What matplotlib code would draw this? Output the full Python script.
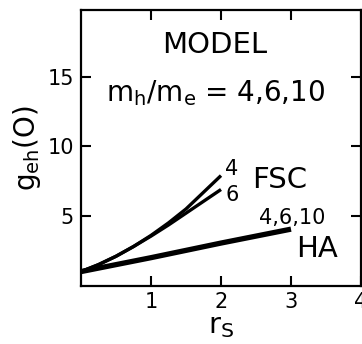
import numpy as np
import matplotlib
matplotlib.use("Agg")
import matplotlib.pyplot as plt

plt.rcParams['font.family'] = ['DejaVu Sans']
plt.rcParams['mathtext.fontset'] = 'dejavusans'

# valeurs
rs_fsc = [0.0, 0.25, 0.5, 0.75, 1.0, 1.25, 1.5, 1.75, 2.0]
g_fsc_4 = [1.0, 1.5, 2.1, 2.8, 3.6, 4.5, 5.5, 6.7, 7.9]
g_fsc_6 = [1.0, 1.5, 2.1, 2.8, 3.55, 4.35, 5.2, 6.05, 6.9]
rs_ha = [0.0, 1.0, 2.0, 3.0]
g_ha = [1.0, 2.0, 3.05, 4.05]

xticks = [1, 2, 3, 4]
yticks = [5, 10, 15]

fig = plt.figure(figsize=(3.62, 3.44), dpi=100)
ax = fig.add_axes([81 / 362, 58.5 / 344, 280 / 362, 275.5 / 344])

ax.plot(rs_fsc, g_fsc_4, color='black', lw=2.4, solid_capstyle='butt')
ax.plot(rs_fsc, g_fsc_6, color='black', lw=2.4, solid_capstyle='butt')
ax.plot(rs_ha, g_ha, color='black', lw=3.8, solid_capstyle='butt')

ax.set_xlim(0, 4)
ax.set_ylim(0, 19.8)
ax.set_xticks(xticks)
ax.set_yticks(yticks)
ax.set_xticklabels([str(t) for t in xticks], fontsize=15)
ax.set_yticklabels([str(t) for t in yticks], fontsize=15)
ax.tick_params(direction='in', length=7, width=1.5, top=True, right=True, pad=5)
for s in ax.spines.values():
    s.set_linewidth(1.6)

ax.set_xlabel(r'r$_\mathregular{S}$', fontsize=21, labelpad=0)
ax.set_ylabel(r'g$_\mathregular{eh}$(O)', fontsize=20, labelpad=3)

ax.text(1.91, 17.3, 'MODEL', fontsize=21, ha='center', va='center')
ax.text(1.93, 13.8, r'm$_\mathregular{h}$/m$_\mathregular{e}$ = 4,6,10', fontsize=20,
        ha='center', va='center')
ax.text(2.06, 8.4, '4', fontsize=15, ha='left', va='center')
ax.text(2.06, 6.5, '6', fontsize=15, ha='left', va='center')
ax.text(2.45, 7.6, 'FSC', fontsize=21, ha='left', va='center')
ax.text(2.55, 4.85, '4,6,10', fontsize=15, ha='left', va='center')
ax.text(3.07, 2.65, 'HA', fontsize=21, ha='left', va='center')

fig.savefig('out.png', dpi=100)
